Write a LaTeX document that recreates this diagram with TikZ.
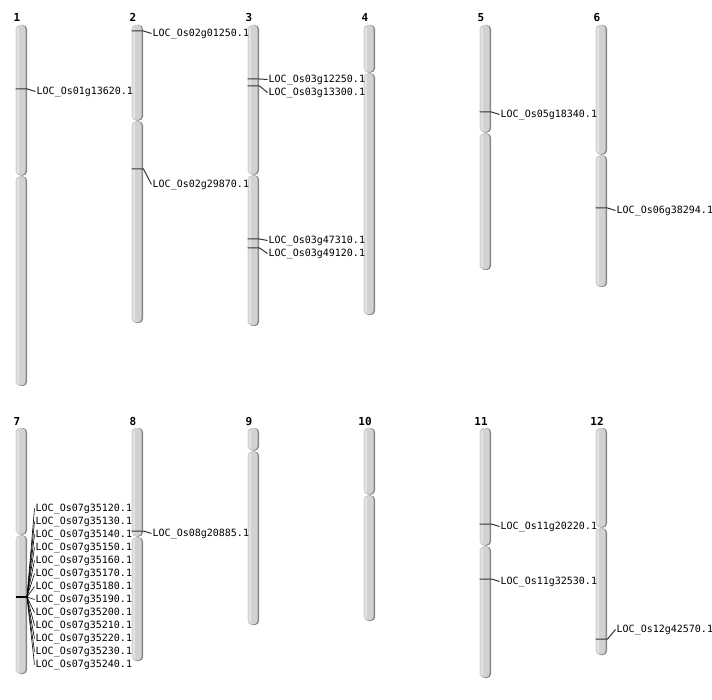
\documentclass[tikz,border=0pt]{standalone}
\usepackage{fontspec}
\setmonofont{DejaVu Sans Mono}
\usetikzlibrary{calc}
\newcommand{\chrcolor}{gray!35}
\newcommand{\edgecolor}{gray!95}
\newcommand{\markcolor}{black!80}
\newcommand{\gap}{0.4}
% chromosome: centre x, top, centromere, bottom
\newcommand{\chrom}[4]{%
\fill[\edgecolor, rounded corners=4pt] ({#1-4.5},#2) rectangle ({#1+6},{#3-\gap});
\fill[\edgecolor, rounded corners=4pt] ({#1-4.5},{#3+\gap}) rectangle ({#1+6},#4);
\fill[\chrcolor, rounded corners=4pt] ({#1-5.5},#2) rectangle ({#1+4.6},{#3-\gap-0.6});
\fill[\chrcolor, rounded corners=4pt] ({#1-5.5},{#3+\gap}) rectangle ({#1+4.6},{#4-0.6});
\fill[gray!22] ({#1-4.2},{#2+3}) rectangle ({#1-2.4},{#3-\gap-3});
\fill[gray!22] ({#1-4.2},{#3+\gap+3}) rectangle ({#1-2.4},{#4-3});
}
% gene: centre x, marker y, label y, text, name
\newcommand{\gene}[5]{%
\coordinate (#5a) at ({#1-5.5},#2);
\coordinate (#5b) at ({#1+6.5},#2);
\node[gene] (#5) at ({#1+14.5},{#3+1.5}) {#4};
\draw[marker] (#5a) -- (#5b) -- (#5.west);
}
\tikzset{
  gene/.style={anchor=west, inner sep=1pt, font=\fontsize{10}{12}\selectfont\ttfamily},
  chrnum/.style={anchor=base, inner sep=0pt, font=\fontsize{11}{13}\selectfont\ttfamily\bfseries},
  marker/.style={draw=\markcolor, line width=1pt},
  fan/.style={draw=black, line width=0.6pt}
}

\begin{document}
\begin{tikzpicture}[x=1pt, y=-1pt]
\useasboundingbox (0,0) rectangle (712,700);
%top row
\chrom{21}{25}{176}{386}
\chrom{137}{25}{121}{323}
\chrom{253}{25}{175}{326}
\chrom{369}{25}{73}{315}
\chrom{485}{25}{133}{270}
\chrom{601}{25}{155}{287}
\node[chrnum] (n1) at (17,22) {1};
\node[chrnum] (n2) at (133,22) {2};
\node[chrnum] (n3) at (249,22) {3};
\node[chrnum] (n4) at (365,22) {4};
\node[chrnum] (n5) at (481,22) {5};
\node[chrnum] (n6) at (597,22) {6};
%bottom row
\chrom{21}{428}{535}{674}
\chrom{137}{428}{537}{661}
\chrom{253}{428}{451}{625}
\chrom{369}{428}{495}{621}
\chrom{485}{428}{546}{678}
\chrom{601}{428}{528}{655}
\node[chrnum] (n7) at (17,425) {7};
\node[chrnum] (n8) at (133,425) {8};
\node[chrnum] (n9) at (249,425) {9};
\node[chrnum] (n10) at (365,425) {10};
\node[chrnum] (n11) at (481,425) {11};
\node[chrnum] (n12) at (597,425) {12};
%genes
\gene{21}{89}{90}{LOC\_Os01g13620.1}{g01}
\gene{137}{31}{32}{LOC\_Os02g01250.1}{g02a}
\gene{137}{169}{183}{LOC\_Os02g29870.1}{g02b}
\gene{253}{79}{78}{LOC\_Os03g12250.1}{g03a}
\gene{253}{86}{91}{LOC\_Os03g13300.1}{g03b}
\gene{253}{239}{239}{LOC\_Os03g47310.1}{g03c}
\gene{253}{248}{252}{LOC\_Os03g49120.1}{g03d}
\gene{485}{112}{113}{LOC\_Os05g18340.1}{g05}
\gene{601}{208}{209}{LOC\_Os06g38294.1}{g06}
\gene{137}{531}{532}{LOC\_Os08g20885.1}{g08}
\gene{485}{524}{525}{LOC\_Os11g20220.1}{g11a}
\gene{485}{579}{580}{LOC\_Os11g32530.1}{g11b}
\gene{601}{639}{628}{LOC\_Os12g42570.1}{g12}
%chr 7 cluster
\coordinate (c7a) at (15.5,597);
\coordinate (c7b) at (27,597);
\draw[black, line width=1.8pt] (c7a) -- (c7b);
\node[gene] (g35120) at (34.5,508.5) {LOC\_Os07g35120.1};
\node[gene] (g35130) at (34.5,521.5) {LOC\_Os07g35130.1};
\node[gene] (g35140) at (34.5,534.5) {LOC\_Os07g35140.1};
\node[gene] (g35150) at (34.5,547.5) {LOC\_Os07g35150.1};
\node[gene] (g35160) at (34.5,560.5) {LOC\_Os07g35160.1};
\node[gene] (g35170) at (34.5,573.5) {LOC\_Os07g35170.1};
\node[gene] (g35180) at (34.5,586.5) {LOC\_Os07g35180.1};
\node[gene] (g35190) at (34.5,599.5) {LOC\_Os07g35190.1};
\node[gene] (g35200) at (34.5,612.5) {LOC\_Os07g35200.1};
\node[gene] (g35210) at (34.5,625.5) {LOC\_Os07g35210.1};
\node[gene] (g35220) at (34.5,638.5) {LOC\_Os07g35220.1};
\node[gene] (g35230) at (34.5,651.5) {LOC\_Os07g35230.1};
\node[gene] (g35240) at (34.5,664.5) {LOC\_Os07g35240.1};
\draw[fan] (c7b) -- (g35120.west);
\draw[fan] (c7b) -- (g35130.west);
\draw[fan] (c7b) -- (g35140.west);
\draw[fan] (c7b) -- (g35150.west);
\draw[fan] (c7b) -- (g35160.west);
\draw[fan] (c7b) -- (g35170.west);
\draw[fan] (c7b) -- (g35180.west);
\draw[fan] (c7b) -- (g35190.west);
\draw[fan] (c7b) -- (g35200.west);
\draw[fan] (c7b) -- (g35210.west);
\draw[fan] (c7b) -- (g35220.west);
\draw[fan] (c7b) -- (g35230.west);
\draw[fan] (c7b) -- (g35240.west);
\end{tikzpicture}
\end{document}
